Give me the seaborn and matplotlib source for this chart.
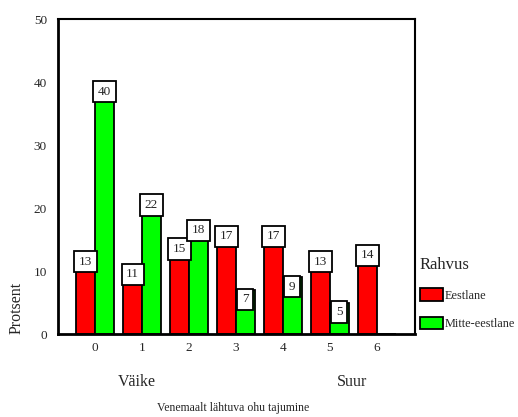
import pandas as pd
import seaborn as sns
import matplotlib
matplotlib.use("Agg")
import matplotlib.pyplot as plt
from matplotlib.patches import Patch

# data
categories = ["0", "1", "2", "3", "4", "5", "6"]
groups = ["Eestlane", "Mitte-eestlane"]
eestlane = [13, 11, 15, 17, 17, 13, 14]
mitte_eestlane = [40, 22, 18, 7, 9, 5, 0]
colors = ["#ff0000", "#00ff00"]

df = pd.DataFrame({
    "kat": categories * 2,
    "rahvus": [groups[0]] * len(categories) + [groups[1]] * len(categories),
    "protsent": eestlane + mitte_eestlane,
})

sns.set_style("white")
plt.rcParams["font.family"] = ["Liberation Serif", "DejaVu Serif"]

fig, ax = plt.subplots(figsize=(5.18, 4.17), dpi=100)
fig.subplots_adjust(left=0.112, right=0.801, top=0.954, bottom=0.199)

sns.barplot(data=df, x="kat", y="protsent", hue="rahvus", order=categories,
            hue_order=groups, palette=colors, width=0.8, saturation=1,
            edgecolor="black", linewidth=1.3, legend=False, ax=ax)

# value boxes near top of each bar
for cont in ax.containers:
    for bar in cont:
        h = bar.get_height()
        if h <= 0:
            continue
        ax.text(bar.get_x() + bar.get_width() / 2, h - 1.5, f"{h:.0f}",
                ha="center", va="center", fontsize=9.5,
                bbox=dict(boxstyle="square,pad=0.35", fc="white", ec="black", lw=1.3))

ax.set_xlim(-0.79, 6.81)
ax.set_ylim(0, 50)
ax.set_yticks([0, 10, 20, 30, 40, 50])
ax.tick_params(axis="both", labelsize=9.5, length=3, width=2, color="black",
               direction="out", pad=3)
ax.tick_params(axis="y", pad=5)
for s in ["left", "bottom"]:
    ax.spines[s].set_linewidth(2)
for s in ["top", "right"]:
    ax.spines[s].set_linewidth(1.5)
for s in ax.spines.values():
    s.set_color("black")

ax.set_xlabel("")
ax.set_ylabel("Protsent", loc="bottom", fontsize=11.5)
ax.yaxis.set_label_coords(-0.093, 0)

fig.text(137 / 518, 1 - 382 / 417, "Väike", ha="center", va="center", fontsize=11.5)
fig.text(352 / 518, 1 - 382 / 417, "Suur", ha="center", va="center", fontsize=11.5)
fig.text(233 / 518, 1 - 408 / 417, "Venemaalt lähtuva ohu tajumine",
         ha="center", va="center", fontsize=8.5)

handles = [Patch(facecolor=c, edgecolor="black", linewidth=1.3) for c in colors]
leg = fig.legend(handles, groups, title="Rahvus", loc="upper left",
                 bbox_to_anchor=(409 / 518, 1 - 246 / 417), frameon=False,
                 fontsize=8.8, title_fontsize=12, handlelength=1.85, handleheight=1.2,
                 labelspacing=1.25, handletextpad=0.2, alignment="left")

fig.savefig("out.png", dpi=100)
